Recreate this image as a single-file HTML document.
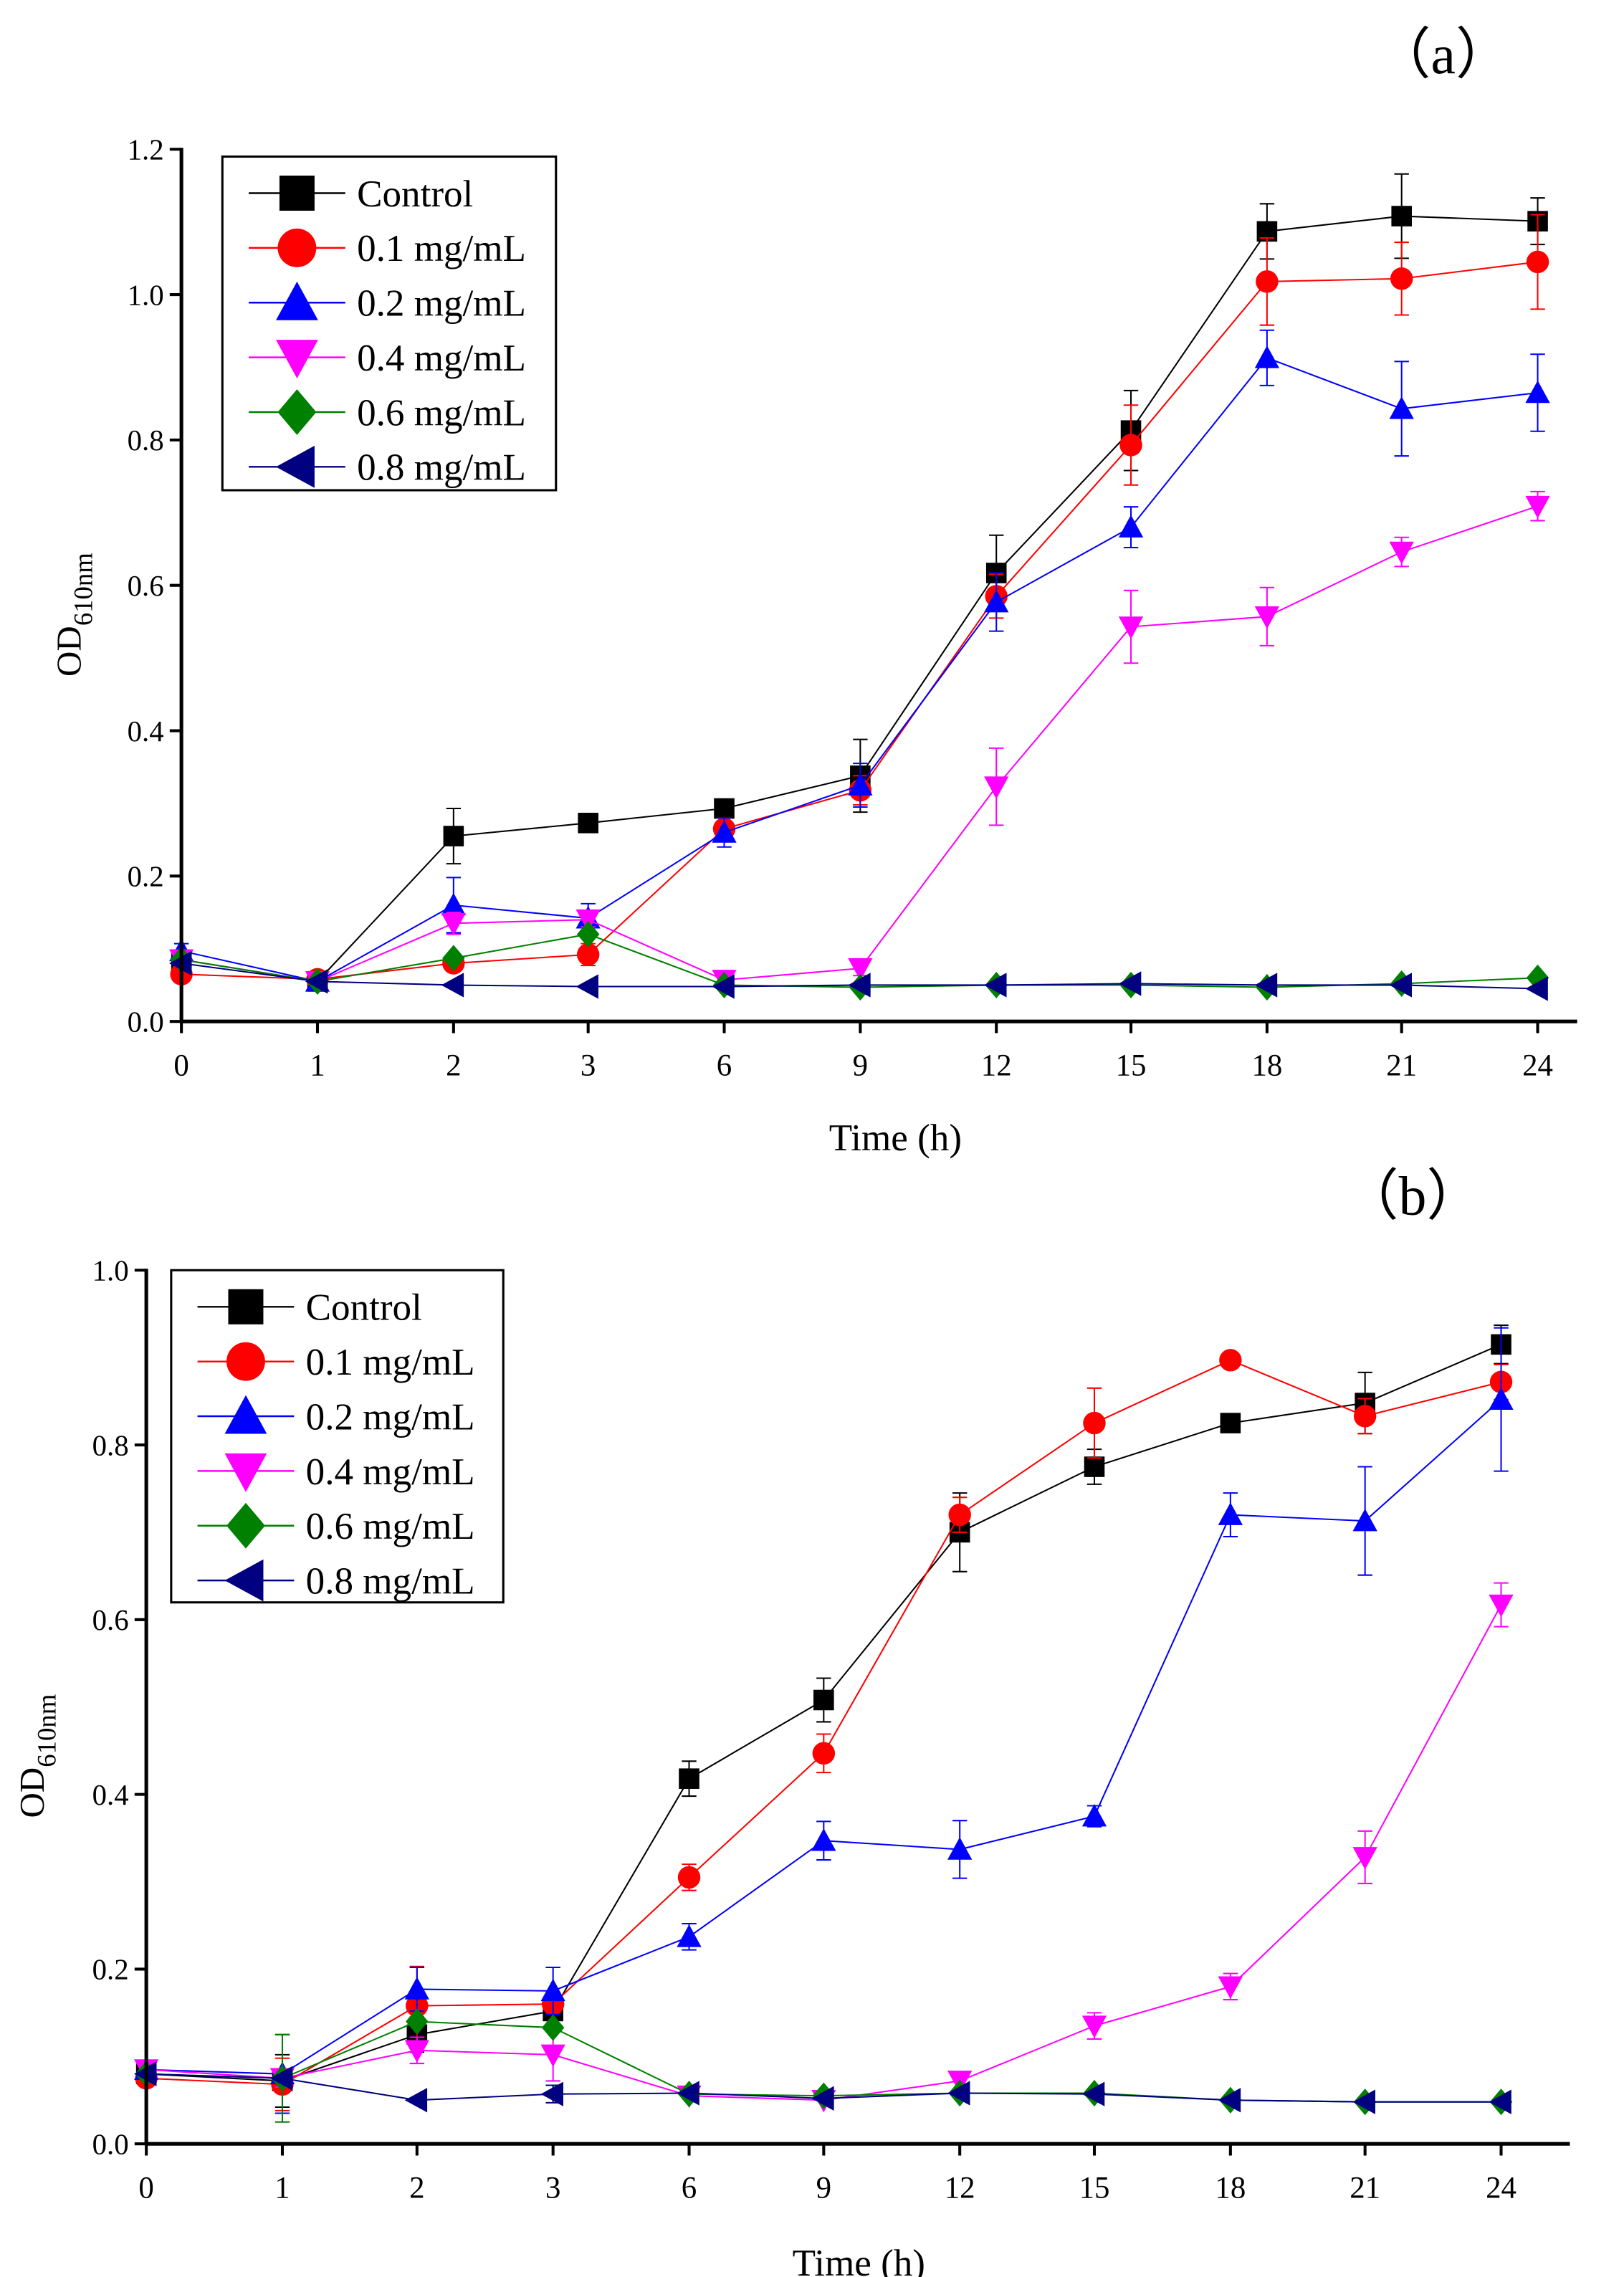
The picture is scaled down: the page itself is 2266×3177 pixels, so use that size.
<!DOCTYPE html>
<html><head><meta charset="utf-8"><style>
html,body{margin:0;padding:0;background:#fff;}
svg{display:block;}
text{font-family:"Liberation Serif",serif;fill:#000;}
</style></head><body>
<svg id="s" width="2266" height="3177" viewBox="0 0 1110 1556" preserveAspectRatio="none" xmlns="http://www.w3.org/2000/svg"></svg>
<script>
const S=document.getElementById('s');let h='';
const cols=['#000000','#ff0000','#0000ff','#ff00ff','#008000','#000080'];
const names=['Control','0.1 mg/mL','0.2 mg/mL','0.4 mg/mL','0.6 mg/mL','0.8 mg/mL'];
const xl=['0','1','2','3','6','9','12','15','18','21','24'];
function mk(t,x,y,r,c){
 if(t==0)return `<rect x="${x-r}" y="${y-r}" width="${2*r}" height="${2*r}" fill="${c}"/>`;
 if(t==1)return `<circle cx="${x}" cy="${y}" r="${r*1.1}" fill="${c}"/>`;
 if(t==2)return `<polygon points="${x},${y-r*1.2} ${x+r*1.2},${y+r} ${x-r*1.2},${y+r}" fill="${c}"/>`;
 if(t==3)return `<polygon points="${x},${y+r*1.2} ${x+r*1.2},${y-r} ${x-r*1.2},${y-r}" fill="${c}"/>`;
 if(t==4)return `<polygon points="${x},${y-r*1.3} ${x+r*1.1},${y} ${x},${y+r*1.3} ${x-r*1.1},${y}" fill="${c}"/>`;
 return `<polygon points="${x-r*1.2},${y} ${x+r},${y-r*1.2} ${x+r},${y+r*1.2}" fill="${c}"/>`;
}
function panel(o){
 const {x0,y0,yt,ymax,xs,xend,data,err,leg,lab,labx,laby,odx,ody,tx,ty}=o;
 const Y=v=>y0-(y0-yt)*v/ymax;
 data.forEach((d,i)=>{
  let pts=d.map((v,j)=>xs[j]+','+Y(v)).join(' ');
  h+=`<polyline points="${pts}" fill="none" stroke="${cols[i]}" stroke-width="1"/>`;
  d.forEach((v,j)=>{const e=(err[i]&&err[i][j])||0; if(e>0){const a=Y(v+e),b=Y(v-e);
   h+=`<line x1="${xs[j]}" y1="${a}" x2="${xs[j]}" y2="${b}" stroke="${cols[i]}" stroke-width="1"/><line x1="${xs[j]-5}" y1="${a}" x2="${xs[j]+5}" y2="${a}" stroke="${cols[i]}"/><line x1="${xs[j]-5}" y1="${b}" x2="${xs[j]+5}" y2="${b}" stroke="${cols[i]}"/>`;}});
  d.forEach((v,j)=>{h+=mk(i,xs[j],Y(v),7,cols[i]);});
 });
 h+=`<line x1="${x0}" y1="${y0}" x2="${xend}" y2="${y0}" stroke="#000" stroke-width="2.5"/>`;
 h+=`<line x1="${x0}" y1="${y0+1}" x2="${x0}" y2="${yt-1}" stroke="#000" stroke-width="2.5"/>`;
 for(let k=0;k<=ymax/0.2+0.01;k++){const y=Y(k*0.2);
  h+=`<line x1="${x0-8}" y1="${y}" x2="${x0}" y2="${y}" stroke="#000" stroke-width="2"/>`;
  h+=`<text x="${x0-12}" y="${y+7}" font-size="20" text-anchor="end">${(k*0.2).toFixed(1)}</text>`;
 }
 xs.forEach((x,j)=>{h+=`<line x1="${x}" y1="${y0}" x2="${x}" y2="${y0+8}" stroke="#000" stroke-width="2"/><text x="${x}" y="${y0+37}" font-size="21" text-anchor="middle">${xl[j]}</text>`;});
 const [lx,ly,lw,lh,mx]=leg;
 h+=`<rect x="${lx}" y="${ly}" width="${lw}" height="${lh}" fill="#fff" stroke="#000" stroke-width="1.5"/>`;
 for(let i=0;i<6;i++){const y=ly+25+i*37.4;
  h+=`<line x1="${mx-33}" y1="${y}" x2="${mx+33}" y2="${y}" stroke="${cols[i]}" stroke-width="1.2"/>`+mk(i,mx,y,12,cols[i]);
  h+=`<text x="${mx+41}" y="${y+9}" font-size="26">${names[i]}</text>`;}
 h+=`<text x="${labx}" y="${laby}" font-size="38">（${lab}）</text>`;
 h+=`<text transform="translate(${odx},${ody}) rotate(-90)" font-size="24" text-anchor="middle">OD<tspan font-size="18" dy="8">610nm</tspan></text>`;
 h+=`<text x="${tx}" y="${ty}" font-size="26" text-anchor="middle">Time (h)</text>`;
}
const xsA=[124,217,310,402,495,588,681,773,866,958,1051];
panel({x0:124,y0:698,yt:102,ymax:1.2,xs:xsA,xend:1078,
data:[[0.085,0.055,0.255,0.273,0.293,0.338,0.617,0.813,1.087,1.108,1.101],
[0.065,0.058,0.08,0.092,0.265,0.318,0.585,0.793,1.018,1.022,1.045],
[0.097,0.055,0.16,0.142,0.26,0.325,0.577,0.68,0.913,0.843,0.865],
[0.085,0.055,0.135,0.14,0.057,0.073,0.323,0.543,0.557,0.646,0.709],
[0.085,0.055,0.087,0.12,0.05,0.047,0.05,0.05,0.047,0.052,0.06],
[0.08,0.055,0.05,0.048,0.048,0.05,0.05,0.052,0.05,0.05,0.045]],
err:[[0.01,0.005,0.038,0.01,0.006,0.05,0.052,0.055,0.038,0.058,0.032],
[0.005,0.005,0.01,0.015,0.01,0.02,0.03,0.055,0.06,0.05,0.065],
[0.01,0.005,0.038,0.02,0.02,0.03,0.04,0.028,0.038,0.065,0.053],
[0.005,0.005,0.015,0.01,0.005,0.01,0.053,0.05,0.04,0.02,0.02],
[0,0,0,0,0,0,0,0,0,0,0],[0,0,0,0,0,0,0,0,0,0,0]],
leg:[152,107,228,228,203],lab:'a',labx:940,laby:50,odx:55,ody:420,tx:612,ty:786});
const xsB=[100,193,285,378,471,563,656,748,841,933,1026];
panel({x0:100,y0:1465,yt:868,ymax:1.0,xs:xsB,xend:1073,
data:[[0.08,0.072,0.125,0.152,0.418,0.508,0.70,0.775,0.825,0.848,0.915],
[0.075,0.068,0.158,0.16,0.305,0.447,0.72,0.825,0.897,0.833,0.872],
[0.085,0.08,0.177,0.175,0.237,0.347,0.337,0.375,0.72,0.713,0.852],
[0.085,0.075,0.107,0.102,0.055,0.05,0.072,0.135,0.18,0.328,0.617],
[0.08,0.075,0.14,0.133,0.057,0.055,0.058,0.058,0.05,0.048,0.048],
[0.08,0.075,0.05,0.057,0.058,0.052,0.058,0.057,0.05,0.048,0.048]],
err:[[0.01,0.03,0.02,0.02,0.02,0.025,0.045,0.02,0.01,0.035,0.022],
[0.005,0.03,0.045,0.01,0.015,0.022,0.02,0.04,0,0.02,0.02],
[0.005,0.045,0.025,0.027,0.015,0.022,0.033,0.012,0.025,0.062,0.082],
[0.005,0.01,0.015,0.03,0,0,0.01,0.015,0.015,0.03,0.025],
[0,0.05,0,0,0,0,0,0,0,0,0],[0,0,0,0.01,0,0,0,0,0,0,0]],
leg:[117,868,227,227,168],lab:'b',labx:918,laby:830,odx:30,ody:1200,tx:587,ty:1555});
S.innerHTML=h;
</script>
</body></html>
